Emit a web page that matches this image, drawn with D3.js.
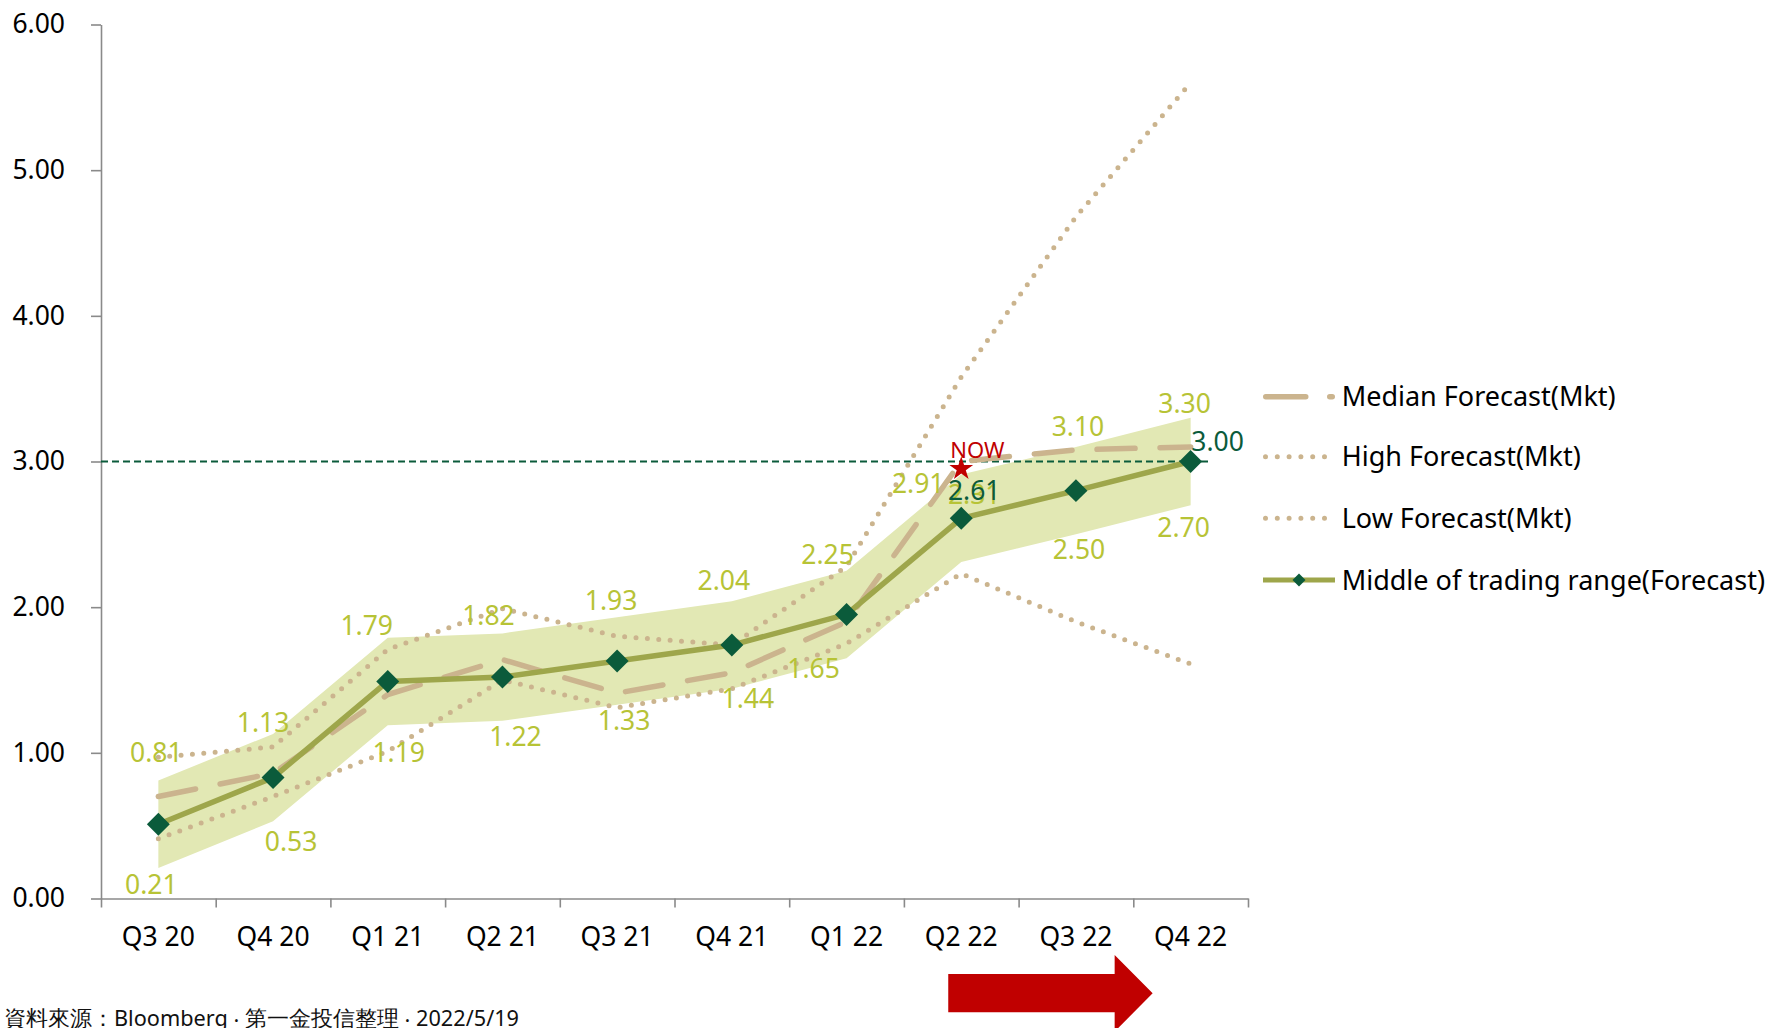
<!DOCTYPE html>
<html><head><meta charset="utf-8">
<script src="https://cdn.jsdelivr.net/npm/d3@7"></script>
<style>
html,body{margin:0;padding:0;background:#fff;}
svg{display:block;}
text{font-family:"Noto Sans",sans-serif;}
</style></head><body>
<svg id="chart" width="1765" height="1028"></svg>
<script>
// ---------------- data ----------------
const categories = ['Q3 20','Q4 20','Q1 21','Q2 21','Q3 21','Q4 21','Q1 22','Q2 22','Q3 22','Q4 22'];
const rangeHigh  = [0.81,1.13,1.79,1.82,1.93,2.04,2.25,2.91,3.10,3.30];
const rangeLow   = [0.21,0.53,1.19,1.22,1.33,1.44,1.65,2.31,2.50,2.70];
const middle     = [0.51,0.83,1.49,1.52,1.63,1.74,1.95,2.61,2.80,3.00];
const median     = [0.70,0.86,1.40,1.64,1.41,1.55,1.90,3.00,3.08,3.10];
const highFc     = [0.97,1.04,1.71,1.99,1.80,1.74,2.28,3.58,4.68,5.60];
const lowFc      = [0.41,0.70,1.01,1.50,1.31,1.44,1.75,2.23,1.90,1.61];
const yTicks     = [0,1,2,3,4,5,6];
const targetLevel = 3.00;
const nowCategory = 'Q2 22';
const nowValue = 2.95;
const middleLabelCats = ['Q2 22','Q4 22'];
const legendLabels = ['Median Forecast(Mkt)','High Forecast(Mkt)','Low Forecast(Mkt)','Middle of trading range(Forecast)'];
const footnote = '資料來源：Bloomberg ‧ 第一金投信整理 ‧ 2022/5/19';

// ---------------- layout / style ----------------
const upperOff = [[-2,-28],[-10,-11],[-21,-12],[-14,-18],[-6,-17],[-8,-21],[-19,-16],[-43,9],[2,-20],[-6,-14]];
const lowerOff = [[-7,17],[18,20],[11,27],[13,16],[7,16],[16,10],[-33,10],[13,-67],[3,15],[-7,22]];
const middleOff = {'Q2 22':[13,-28],'Q4 22':[27,-20]};
const C = {
  band:'#e2e8b4', tan:'#cbb48e', mid:'#9ea64b', diamond:'#0b5b3b',
  lbl:'#b7c336', dark:'#0b5b3b', red:'#c00000', axis:'#8a8a8a'
};
const FS = 26.5;

const svg = d3.select('#chart');
const x = d3.scaleBand().domain(categories).range([101,1248]).padding(0);
const cx = c => x(c) + x.bandwidth()/2;
const xi = d3.scaleLinear().domain([0,categories.length]).range([101,1248]);
const y = d3.scaleLinear().domain([0,6]).range([898.5,24.5]);

// band
const area = d3.area()
  .x((d,i)=>cx(categories[i]))
  .y0((d,i)=>y(rangeLow[i]))
  .y1(d=>y(d));
svg.append('path').attr('d',area(rangeHigh)).attr('fill',C.band);

// axes
const yAx = svg.append('g').attr('transform','translate(101,0)')
  .call(d3.axisLeft(y).tickValues(yTicks).tickFormat(d3.format('.2f')).tickSize(10).tickSizeOuter(0).tickPadding(26));
const xAx = svg.append('g').attr('transform','translate(0,'+y(0)+')')
  .call(d3.axisBottom(xi).tickValues(d3.range(categories.length+1)).tickFormat('').tickSize(9).tickSizeOuter(0));
const xLab = svg.append('g').attr('transform','translate(0,'+y(0)+')')
  .call(d3.axisBottom(x).tickSize(0).tickPadding(29));
xLab.select('.domain').remove();
[yAx,xAx].forEach(g=>{
  g.select('.domain').attr('stroke',C.axis).attr('stroke-width',1.6);
  g.selectAll('.tick line').attr('stroke',C.axis).attr('stroke-width',1.6);
});
[yAx,xLab].forEach(g=>{
  g.selectAll('text').attr('font-family','"Noto Sans",sans-serif').attr('font-size',FS).attr('fill','#000');
});

// target line
svg.append('line')
  .attr('x1',xi(0)).attr('x2',cx(categories[categories.length-1])+21)
  .attr('y1',y(targetLevel)).attr('y2',y(targetLevel))
  .attr('stroke',C.dark).attr('stroke-width',1.8).attr('stroke-dasharray','7 4');

const line = d3.line().x((d,i)=>cx(categories[i])).y(d=>y(d));
// median
svg.append('path').attr('d',line(median)).attr('fill','none')
  .attr('stroke',C.tan).attr('stroke-width',5.5).attr('stroke-linecap','round')
  .attr('stroke-dasharray','38 25');
// high / low
[highFc,lowFc].forEach(s=>{
  svg.append('path').attr('d',line(s)).attr('fill','none')
    .attr('stroke',C.tan).attr('stroke-width',5).attr('stroke-linecap','round')
    .attr('stroke-dasharray','0 11.4');
});
// middle
svg.append('path').attr('d',line(middle)).attr('fill','none')
  .attr('stroke',C.mid).attr('stroke-width',5.5).attr('stroke-linejoin','round');
const diamond = d3.symbol().type(d3.symbolSquare).size(264);
svg.append('g').selectAll('path').data(middle).join('path')
  .attr('d',diamond())
  .attr('transform',(d,i)=>`translate(${cx(categories[i])},${y(d)}) rotate(45)`)
  .attr('fill',C.diamond);

// NOW star
const sx = cx(nowCategory), sy = y(nowValue);
svg.append('path').attr('d',d3.symbol().type(d3.symbolStar).size(175)())
  .attr('transform',`translate(${sx},${sy})`).attr('fill',C.red);
svg.append('text').attr('x',sx-11).attr('y',sy-19).attr('dy','0.357em')
  .attr('font-size',22).attr('fill',C.red).text('NOW');

// labels
const lbl = svg.append('g').attr('text-anchor','middle').attr('font-size',FS);
lbl.selectAll('text.lo').data(rangeLow).join('text').attr('class','lo')
  .attr('x',(d,i)=>cx(categories[i])+lowerOff[i][0])
  .attr('y',(d,i)=>y(d)+lowerOff[i][1]).attr('dy','0.357em')
  .attr('fill',C.lbl).text(d=>d3.format('.2f')(d));
lbl.selectAll('text.hi').data(rangeHigh).join('text').attr('class','hi')
  .attr('x',(d,i)=>cx(categories[i])+upperOff[i][0])
  .attr('y',(d,i)=>y(d)+upperOff[i][1]).attr('dy','0.357em')
  .attr('fill',C.lbl).text(d=>d3.format('.2f')(d));
lbl.selectAll('text.md').data(middleLabelCats).join('text').attr('class','md')
  .attr('x',c=>cx(c)+middleOff[c][0])
  .attr('y',c=>y(middle[categories.indexOf(c)])+middleOff[c][1]).attr('dy','0.357em')
  .attr('fill',C.dark).text(c=>d3.format('.2f')(middle[categories.indexOf(c)]));

// legend
const lg = svg.append('g');
const lgX0 = 1263, lgX1 = 1335, lgTx = 1341.7, lgY = [396.7,456.7,518.3,580];
legendLabels.forEach((t,i)=>{
  const yy = lgY[i];
  if(i===0){
    lg.append('line').attr('x1',lgX0+2.75).attr('x2',lgX1-2.75).attr('y1',yy).attr('y2',yy)
      .attr('stroke',C.tan).attr('stroke-width',5.5).attr('stroke-linecap','round').attr('stroke-dasharray','40 24');
  } else if(i<3){
    lg.append('line').attr('x1',lgX0+2.5).attr('x2',lgX1-2).attr('y1',yy).attr('y2',yy)
      .attr('stroke',C.tan).attr('stroke-width',5).attr('stroke-linecap','round').attr('stroke-dasharray','0 11.8');
  } else {
    lg.append('line').attr('x1',lgX0).attr('x2',lgX1).attr('y1',yy).attr('y2',yy)
      .attr('stroke',C.mid).attr('stroke-width',5);
    lg.append('path').attr('d',d3.symbol().type(d3.symbolSquare).size(85)())
      .attr('transform',`translate(${(lgX0+lgX1)/2},${yy}) rotate(45)`).attr('fill',C.diamond);
  }
  lg.append('text').attr('x',lgTx).attr('y',yy).attr('dy','0.357em')
    .attr('font-size',27).attr('fill','#000').text(t);
});

// red arrow (decoration)
const ax0 = cx(nowCategory)-13, axTip = cx(categories[categories.length-1])-38, axNeck = axTip-38;
svg.append('path').attr('fill',C.red)
  .attr('d',`M${ax0},974 L${axNeck},974 L${axNeck},955 L${axTip},993.3 L${axNeck},1031.6 L${axNeck},1012.3 L${ax0},1012.3 Z`);

// footnote
svg.append('text').attr('x',4).attr('y',1026)
  .attr('font-family','"Noto Sans CJK TC","Noto Sans",sans-serif')
  .attr('font-size',21.7).attr('fill','#111').text(footnote);
</script>
</body></html>
